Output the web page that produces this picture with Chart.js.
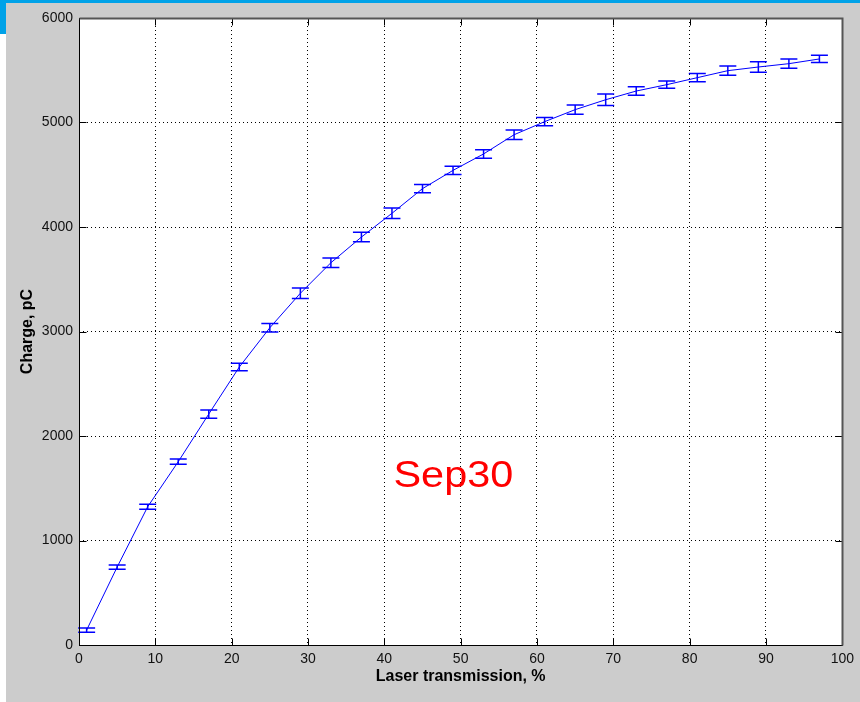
<!DOCTYPE html>
<html>
<head>
<meta charset="utf-8">
<title>Charge vs laser transmission</title>
<script src="https://cdn.jsdelivr.net/npm/chart.js@4.4.0/dist/chart.umd.min.js"></script>
<style>
  body { margin: 0; background: #fff; }
  #topbar { position: absolute; left: 0; top: 0; width: 860px; height: 3px; background: #00a2e8; }
  #sidebar { position: absolute; left: 0; top: 0; width: 6px; height: 34px; background: #00a2e8; }
  #wrap { position: absolute; left: 6px; top: 3px; width: 854px; height: 699px; background: #cccccc; }
</style>
</head>
<body>
<div id="topbar"></div>
<div id="sidebar"></div>
<div id="wrap"><canvas id="myChart" width="854" height="699"></canvas></div>
<script>
transmission = [1, 5, 9, 13, 17, 21, 25, 29, 33, 37, 41, 45, 49, 53, 57, 61, 65, 69, 73, 77, 81, 85, 89, 93, 97];
charge = [143, 746, 1323, 1754, 2210, 2660, 3036, 3366, 3658, 3904, 4131, 4367, 4542, 4699, 4883, 5008, 5123, 5218, 5301, 5362, 5429, 5496, 5531, 5563, 5608];
chargeErr = [20, 20, 25, 25, 40, 35, 40, 50, 45, 45, 50, 40, 40, 40, 45, 40, 45, 55, 40, 35, 40, 45, 50, 45, 35];

xTicks = [0, 10, 20, 30, 40, 50, 60, 70, 80, 90, 100];
yTicks = [0, 1000, 2000, 3000, 4000, 5000, 6000];

xTitle = 'Laser transmission, %';
yTitle = 'Charge, pC';
note = 'Sep30';

points = [];
for (i = 0; i < transmission.length; i++) {
  points.push({x: transmission[i], y: charge[i]});
}

// white plot background, frame, inward ticks, error bars, note
const matlabLook = {
  id: 'matlabLook',
  beforeDraw(chart) {
    const a = chart.chartArea;
    const ctx = chart.ctx;
    ctx.save();
    ctx.fillStyle = '#ffffff';
    ctx.fillRect(a.left, a.top, a.right - a.left, a.bottom - a.top);
    ctx.restore();
  },
  afterDatasetsDraw(chart) {
    const ctx = chart.ctx;
    const xs = chart.scales.x;
    const ys = chart.scales.y;
    ctx.save();
    ctx.strokeStyle = '#0000ff';
    ctx.lineWidth = 1.5;
    for (i = 0; i < transmission.length; i++) {
      const px = xs.getPixelForValue(transmission[i]);
      const top = ys.getPixelForValue(charge[i] + chargeErr[i]);
      const bot = ys.getPixelForValue(charge[i] - chargeErr[i]);
      ctx.beginPath();
      ctx.moveTo(px, top); ctx.lineTo(px, bot);
      ctx.moveTo(px - 8.5, top); ctx.lineTo(px + 8.5, top);
      ctx.moveTo(px - 8.5, bot); ctx.lineTo(px + 8.5, bot);
      ctx.stroke();
    }

    // note text, stretched a bit wider like the original
    const nx = xs.getPixelForValue(41.2);
    const ny = ys.getPixelForValue(1510);
    ctx.fillStyle = '#ff0000';
    ctx.font = '36px "Liberation Sans", Arial, sans-serif';
    ctx.textBaseline = 'alphabetic';
    ctx.translate(nx, ny);
    ctx.scale(1.15, 1);
    ctx.fillText(note, 0, 0);
    ctx.restore();
  },
  afterDraw(chart) {
    const a = chart.chartArea;
    const ctx = chart.ctx;
    const xs = chart.scales.x;
    const ys = chart.scales.y;
    const L = Math.round(a.left) + 0.5, R = Math.round(a.right) + 0.5;
    const T = Math.round(a.top) + 0.5, B = Math.round(a.bottom) + 0.5;
    ctx.save();
    ctx.lineWidth = 1;
    ctx.strokeStyle = '#000';
    ctx.beginPath();
    for (const v of xTicks) {
      const px = Math.round(xs.getPixelForValue(v)) + 0.5;
      ctx.moveTo(px, B); ctx.lineTo(px, B - 7);
      ctx.moveTo(px, T); ctx.lineTo(px, T + 7);
    }
    for (const v of yTicks) {
      const py = Math.round(ys.getPixelForValue(v)) + 0.5;
      ctx.moveTo(L, py); ctx.lineTo(L + 7, py);
      ctx.moveTo(R, py); ctx.lineTo(R - 7, py);
    }
    ctx.moveTo(L, T); ctx.lineTo(L, B); ctx.lineTo(R, B);
    ctx.stroke();
    ctx.strokeStyle = '#555';
    ctx.lineWidth = 2;
    ctx.beginPath();
    ctx.moveTo(L, T); ctx.lineTo(R, T); ctx.lineTo(R, B);
    ctx.stroke();
    ctx.restore();
  }
};

const tickFont = {family: '"Liberation Sans", Arial, sans-serif', size: 14};
const titleFont = {family: '"Liberation Sans", Arial, sans-serif', size: 16, weight: 'bold'};

const config = {
  type: 'line',
  data: {
    datasets: [{
      data: points,
      borderColor: '#0000ff',
      borderWidth: 1,
      pointRadius: 0,
      fill: false,
      tension: 0
    }]
  },
  options: {
    responsive: false,
    devicePixelRatio: 1,
    animation: false,
    layout: { padding: { top: 15, right: 17, left: 0, bottom: 0 } },
    plugins: { legend: { display: false }, tooltip: { enabled: false } },
    scales: {
      x: {
        type: 'linear',
        min: 0, max: 100,
        afterBuildTicks: function(scale) { scale.ticks = xTicks.map(v => ({value: v})); },
        afterFit: function(scale) { scale.height = 57; },
        grid: { color: '#000', lineWidth: 1, drawTicks: false },
        border: { display: false, dash: [1, 3] },
        ticks: { font: tickFont, color: '#111', padding: 6, maxRotation: 0, callback: v => String(v) },
        title: { display: true, text: xTitle, font: titleFont, color: '#000', padding: { top: 0, bottom: 16 } }
      },
      y: {
        type: 'linear',
        min: 0, max: 6000,
        afterBuildTicks: function(scale) { scale.ticks = yTicks.map(v => ({value: v})); },
        afterFit: function(scale) { scale.width = 73; },
        grid: { color: '#000', lineWidth: 1, drawTicks: false },
        border: { display: false, dash: [1, 3] },
        ticks: { font: tickFont, color: '#111', padding: 6, callback: v => String(v) },
        title: { display: true, text: yTitle, font: titleFont, color: '#000', padding: { top: 12, bottom: 0 } }
      }
    }
  },
  plugins: [matlabLook]
};

const myChart = new Chart(document.getElementById('myChart'), config);
</script>
</body>
</html>
